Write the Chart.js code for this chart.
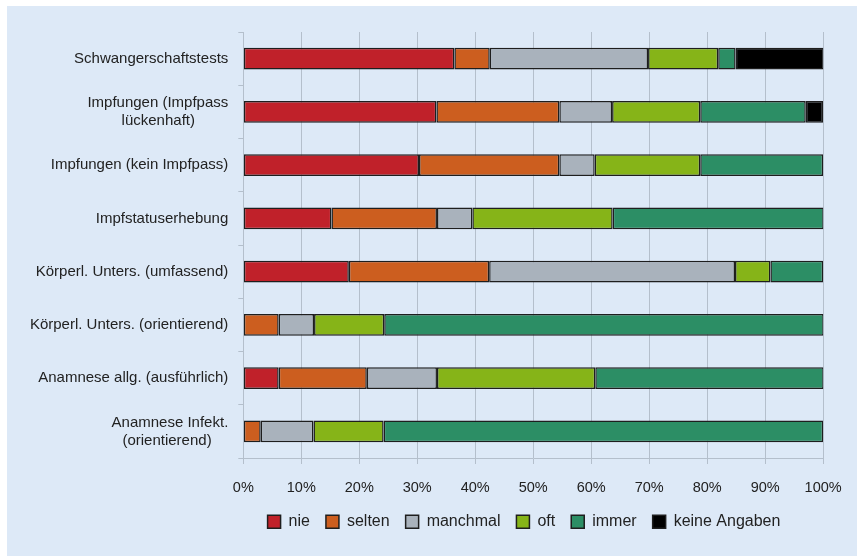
<!DOCTYPE html>
<html>
<head>
<meta charset="utf-8">
<script src="https://cdn.jsdelivr.net/npm/chart.js@4"></script>
<style>
  html, body { margin: 0; padding: 0; background: #fff; }
  #wrap { position: absolute; left: 7px; top: 6px; width: 850px; height: 550px; background: #dde9f7; }
</style>
</head>
<body>
<div id="wrap"><canvas id="chart"></canvas></div>
<script>
// data (% of answers, n = 33)
const categories = [
  'Schwangerschaftstests',
  ['Impfungen (Impfpass', 'lückenhaft)        '],
  'Impfungen (kein Impfpass)',
  'Impfstatuserhebung',
  'Körperl. Unters. (umfassend)',
  'Körperl. Unters. (orientierend)',
  'Anamnese allg. (ausführlich)',
  ['Anamnese Infekt.', '(orientierend)    ']
];
const nie          = [36.4, 33.3, 30.3, 15.2, 18.2, 0,    6.1,  0];
const selten       = [6.1,  21.2, 24.2, 18.2, 24.2, 6.1,  15.2, 3.0];
const manchmal     = [27.3, 9.1,  6.1,  6.1,  42.4, 6.1,  12.1, 9.1];
const oft          = [12.1, 15.2, 18.2, 24.2, 6.1,  12.1, 27.3, 12.1];
const immer        = [3.0,  18.2, 21.2, 36.4, 9.1,  75.8, 39.4, 75.8];
const keineAngaben = [15.2, 3.0,  0,    0,    0,    0,    0,    0];

const gridCol = '#b4bfcc';
const txt = '#222';
const fontFam = 'Liberation Sans, Arial, sans-serif';

function ds(label, data, color) {
  return {
    label, data,
    backgroundColor: color,
    borderColor: '#1e1e1e',
    borderWidth: 1.5,
    borderSkipped: false,
    barPercentage: 0.41,
    categoryPercentage: 1
  };
}

// legend sits a bit off-centre and close under the tick labels in the original
const legendPos = {
  id: 'legendPos',
  afterLayout(chart) {
    const l = chart.legend;
    l.left = 212;
    l.top = 491.7;
    l.bottom = l.top + l.height;
  }
};

new Chart(document.getElementById('chart'), {
  type: 'bar',
  data: {
    labels: categories,
    datasets: [
      ds('nie', nie, '#c0212a'),
      ds('selten', selten, '#cc5e1f'),
      ds('manchmal', manchmal, '#a9b2bc'),
      ds('oft', oft, '#86b418'),
      ds('immer', immer, '#2c8e65'),
      ds('keine Angaben', keineAngaben, '#000000')
    ]
  },
  plugins: [legendPos],
  options: {
    indexAxis: 'y',
    responsive: true,
    maintainAspectRatio: false,
    animation: false,
    layout: { padding: { left: 0, right: 28, top: 26, bottom: 2 } },
    scales: {
      x: {
        stacked: true,
        min: 0, max: 100,
        ticks: {
          stepSize: 10,
          padding: 15.3,
          color: txt,
          font: { family: fontFam, size: 14.5 },
          callback: v => v + '%'
        },
        grid: { color: gridCol, tickLength: 6, tickColor: gridCol },
        border: { color: gridCol }
      },
      y: {
        stacked: true,
        afterFit: s => { s.width = 236.3; s.paddingTop = 0; s.paddingBottom = 0; },
        ticks: {
          padding: 10,
          color: txt,
          font: { family: fontFam, size: 15, lineHeight: 1.2 }
        },
        grid: { drawOnChartArea: false, tickLength: 5, color: gridCol, offset: true },
        border: { color: gridCol }
      }
    },
    plugins: {
      tooltip: { enabled: false },
      legend: {
        position: 'bottom',
        labels: {
          boxWidth: 13,
          boxHeight: 13,
          padding: 16,
          color: txt,
          font: { family: fontFam, size: 16 }
        }
      }
    }
  }
});
</script>
</body>
</html>
